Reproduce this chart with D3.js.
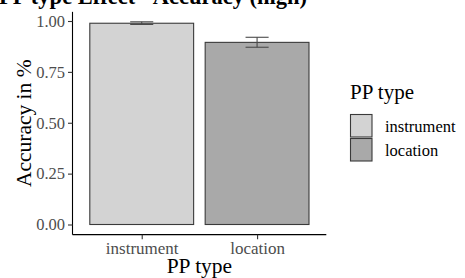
<!DOCTYPE html>
<html><head><meta charset="utf-8">
<script src="https://cdn.jsdelivr.net/npm/d3@7"></script>
<style>body{margin:0;background:#fff}svg{display:block}text{font-family:"Liberation Serif","Times New Roman",serif}</style>
</head><body>
<svg id="c" width="465" height="278"></svg>
<script>
const categories = ["instrument", "location"];
const means = [0.989, 0.895];
const errLow = [0.983, 0.871];
const errHigh = [0.996, 0.920];
const fills = ["#d3d3d3", "#a9a9a9"];
const yTicks = [0, 0.25, 0.5, 0.75, 1.0];
const title = "PP type Effect - Accuracy (high)";
const xTitle = "PP type";
const yTitle = "Accuracy in %";
const legendTitle = "PP type";

const svg = d3.select("#c");
const panel = {left: 72.5, right: 326.3};
const y = d3.scale = d3.scaleLinear().domain([0, 1]).range([224.5, 21]);
const yMin = -0.0498, yMax = 1.045;
const x = d3.scaleBand().domain(categories).range([panel.left, panel.right]).paddingOuter(0.6/1.0*0.0);
// discrete scale with 0.6 expansion: compute centers manually via point scale
const xp = d3.scalePoint().domain(categories).range([panel.left, panel.right]).padding(0.6);
const unit = xp.step();

// bars
const g = svg.append("g");
categories.forEach((c, i) => {
  const cx = xp(c);
  g.append("rect")
    .attr("x", cx - unit * 0.45).attr("width", unit * 0.9)
    .attr("y", y(means[i])).attr("height", y(0) - y(means[i]))
    .attr("fill", fills[i]).attr("stroke", "#3a3a3a").attr("stroke-width", 1.1);
  const cw = unit * 0.1;
  const eg = g.append("g").attr("stroke", "#4a4a4a").attr("stroke-width", 1.1);
  eg.append("line").attr("x1", cx).attr("x2", cx).attr("y1", y(errLow[i])).attr("y2", y(errHigh[i]));
  eg.append("line").attr("x1", cx - cw).attr("x2", cx + cw).attr("y1", y(errLow[i])).attr("y2", y(errLow[i]));
  eg.append("line").attr("x1", cx - cw).attr("x2", cx + cw).attr("y1", y(errHigh[i])).attr("y2", y(errHigh[i]));
});

// y axis
const yAxis = d3.axisLeft(y).tickValues(yTicks).tickFormat(d3.format(".2f")).tickSize(4.5).tickPadding(3);
const ya = svg.append("g").attr("transform", `translate(${panel.left},0)`).call(yAxis);
ya.select(".domain").attr("d", `M0,${y(yMin)}V${y(yMax)}`).attr("stroke", "#000").attr("stroke-width", 1.1);
ya.selectAll(".tick line").attr("stroke", "#333").attr("stroke-width", 1.1);
ya.selectAll(".tick text").attr("fill", "#4d4d4d").style("font-size", "16.5px").style("font-family", "Liberation Serif");

// x axis
const xAxis = d3.axisBottom(xp).tickSize(4.5).tickPadding(3);
const xa = svg.append("g").attr("transform", `translate(0,${y(yMin)})`).call(xAxis);
xa.select(".domain").attr("d", `M${panel.left},0H${panel.right}`).attr("stroke", "#000").attr("stroke-width", 1.1);
xa.selectAll(".tick line").attr("stroke", "#333").attr("stroke-width", 1.1);
xa.selectAll(".tick text").attr("fill", "#4d4d4d").style("font-size", "17px").style("font-family", "Liberation Serif");

// titles
svg.append("text").attr("x", (panel.left + panel.right) / 2).attr("y", 273).attr("text-anchor", "middle")
  .style("font-size", "21.5px").attr("fill", "#000").text(xTitle);
svg.append("text").attr("transform", `translate(31,${(y(yMin) + y(yMax)) / 2}) rotate(-90)`).attr("text-anchor", "middle")
  .style("font-size", "21.5px").attr("fill", "#000").text(yTitle);
svg.append("text").attr("x", -1).attr("y", 4).style("font-size", "22.5px").style("font-weight", "bold").attr("fill", "#000").text(title);

// legend
const lg = svg.append("g");
lg.append("text").attr("x", 350).attr("y", 99).style("font-size", "21px").attr("fill", "#000").text(legendTitle);
categories.forEach((c, i) => {
  const ky = 114.5 + i * 24;
  lg.append("rect").attr("x", 350.5).attr("y", ky).attr("width", 21.5).attr("height", 22.5)
    .attr("fill", fills[i]).attr("stroke", "#3a3a3a").attr("stroke-width", 1.1);
  lg.append("text").attr("x", 385).attr("y", ky + 11.5).attr("dy", "0.35em").style("font-size", "16.5px").attr("fill", "#000").text(c);
});
</script>
</body></html>
